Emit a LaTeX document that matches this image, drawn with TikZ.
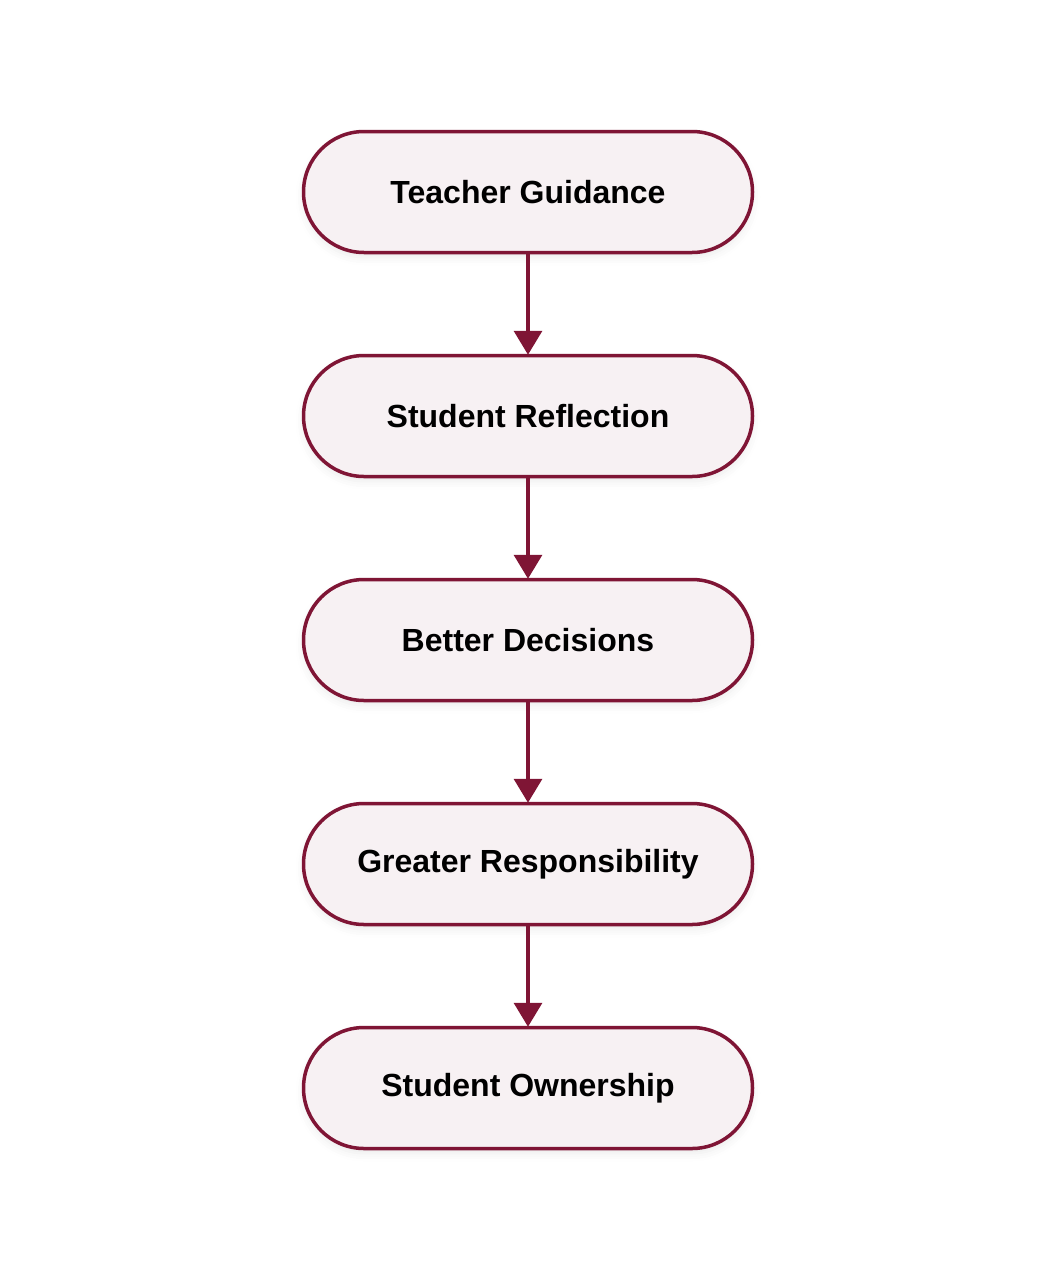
\documentclass[tikz,border=0pt]{standalone}
\usepackage{fontspec}
\setmainfont{Liberation Sans}
\usetikzlibrary{arrows.meta,shadows.blur}
\definecolor{maroon}{HTML}{7F1535}
\definecolor{pinkfill}{HTML}{F7F1F3}
\tikzset{
  stage/.style={draw=maroon, line width=3.5pt, fill=pinkfill, rounded corners=60.5pt,
    minimum width=449pt, minimum height=121pt, inner sep=0pt,
    font=\fontsize{32}{38}\selectfont\bfseries, text=black,
    blur shadow={shadow xshift=0pt, shadow yshift=-5pt, shadow opacity=8, shadow blur radius=8pt}},
  flow/.style={draw=maroon, line width=3.5pt, -{Triangle[width=28pt,length=24pt]}, shorten >=-1pt}
}
\begin{document}
\begin{tikzpicture}[x=1pt,y=1pt]
\useasboundingbox (0,0) rectangle (1040,-1280);
\node[stage] (n1) at (528,-192) {Teacher Guidance};
\node[stage] (n2) at (528,-416) {Student Reflection};
\node[stage] (n3) at (528,-640) {Better Decisions};
\node[stage] (n4) at (528,-864) {Greater Responsibility};
\node[stage] (n5) at (528,-1088) {Student Ownership};
\draw[flow] (n1) -- (n2);
\draw[flow] (n2) -- (n3);
\draw[flow] (n3) -- (n4);
\draw[flow] (n4) -- (n5);
\end{tikzpicture}
\end{document}
